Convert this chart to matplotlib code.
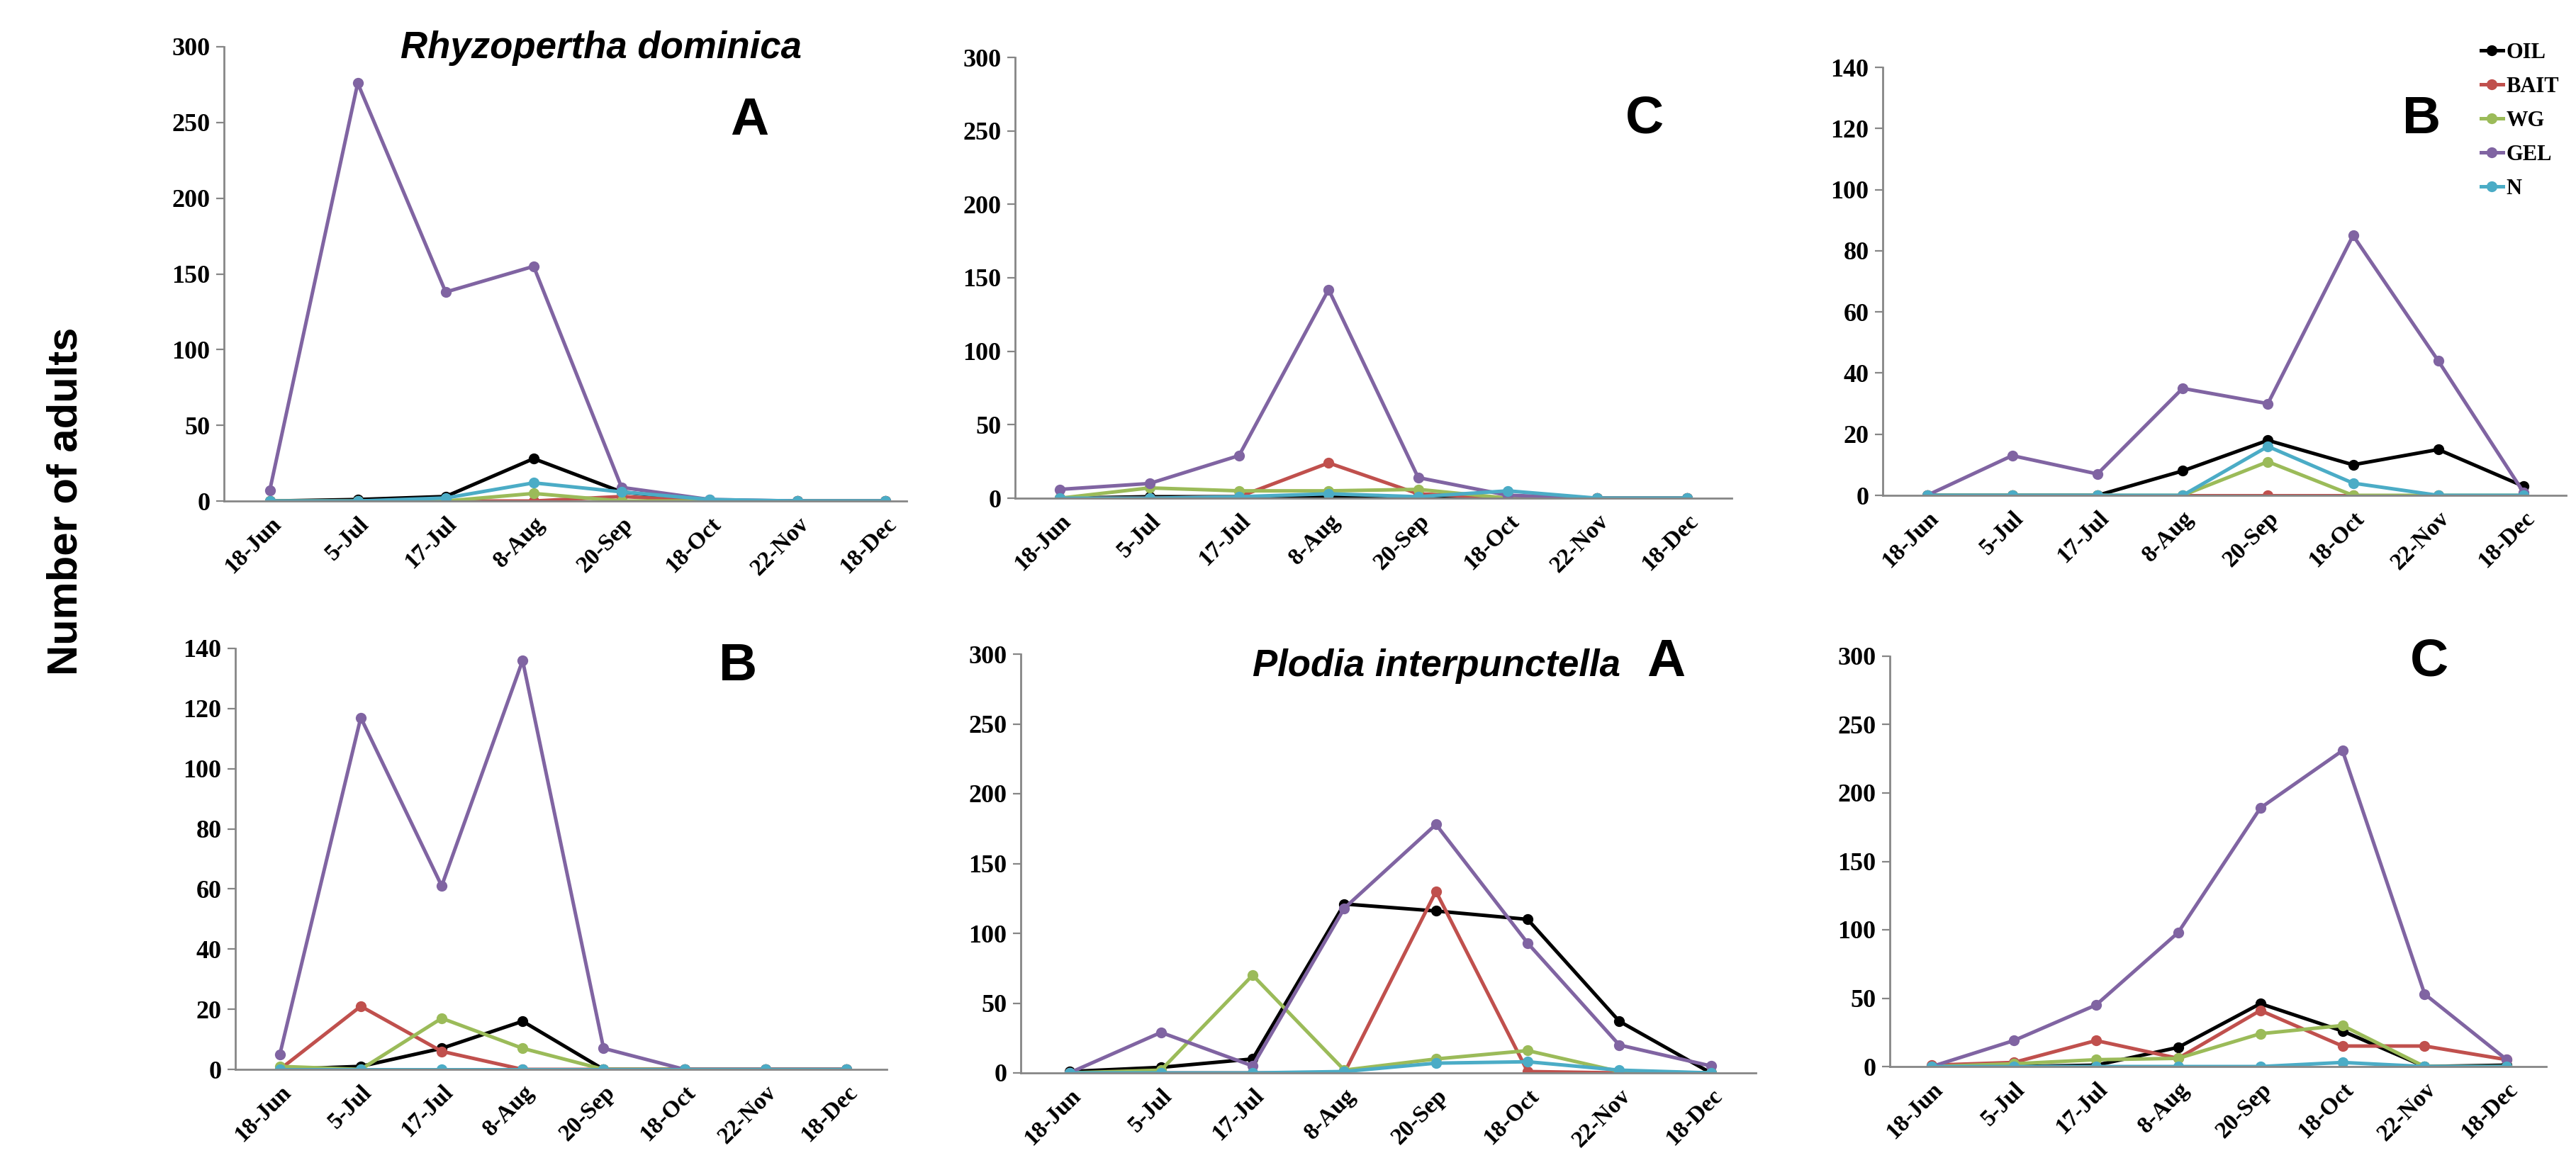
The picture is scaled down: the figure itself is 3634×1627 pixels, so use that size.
import matplotlib
matplotlib.use('Agg')
import matplotlib.pyplot as plt

plt.rcParams['font.family'] = 'Liberation Serif'

W, H = 3634, 1627

dates = ['18-Jun', '5-Jul', '17-Jul', '8-Aug', '20-Sep', '18-Oct', '22-Nov', '18-Dec']
series_names = ['OIL', 'BAIT', 'WG', 'GEL', 'N']
colors = ['#000000', '#c0504d', '#9bbb59', '#8064a2', '#4bacc6']

# Rhyzopertha dominica
rd_a = {
    'OIL':  [0, 1, 3, 28, 6, 0, 0, 0],
    'BAIT': [0, 0, 0, 0, 3, 0, 0, 0],
    'WG':   [0, 0, 0, 5, 0, 0, 0, 0],
    'GEL':  [7, 276, 138, 155, 9, 1, 0, 0],
    'N':    [0, 0, 2, 12, 6, 1, 0, 0],
}
rd_b = {
    'OIL':  [0, 1, 7, 16, 0, 0, 0, 0],
    'BAIT': [0, 21, 6, 0, 0, 0, 0, 0],
    'WG':   [1, 0, 17, 7, 0, 0, 0, 0],
    'GEL':  [5, 117, 61, 136, 7, 0, 0, 0],
    'N':    [0, 0, 0, 0, 0, 0, 0, 0],
}
rd_c = {
    'OIL':  [0, 1, 1, 1, 0, 0, 0, 0],
    'BAIT': [0, 0, 1, 24, 3, 0, 0, 0],
    'WG':   [0, 7, 5, 5, 6, 0, 0, 0],
    'GEL':  [6, 10, 29, 142, 14, 2, 0, 0],
    'N':    [0, 0, 1, 3, 1, 5, 0, 0],
}
# Plodia interpunctella
pi_a = {
    'OIL':  [1, 4, 10, 121, 116, 110, 37, 0],
    'BAIT': [0, 0, 0, 0, 130, 1, 0, 0],
    'WG':   [0, 2, 70, 2, 10, 16, 1, 0],
    'GEL':  [0, 29, 5, 118, 178, 93, 20, 5],
    'N':    [0, 0, 0, 1, 7, 8, 2, 0],
}
pi_b = {
    'OIL':  [0, 0, 0, 8, 18, 10, 15, 3],
    'BAIT': [0, 0, 0, 0, 0, 0, 0, 0],
    'WG':   [0, 0, 0, 0, 11, 0, 0, 0],
    'GEL':  [0, 13, 7, 35, 30, 85, 44, 1],
    'N':    [0, 0, 0, 0, 16, 4, 0, 0],
}
pi_c = {
    'OIL':  [0, 0, 1, 14, 46, 26, 0, 1],
    'BAIT': [1, 3, 19, 6, 41, 15, 15, 5],
    'WG':   [0, 2, 5, 6, 24, 30, 0, 0],
    'GEL':  [0, 19, 45, 98, 189, 231, 53, 5],
    'N':    [0, 0, 0, 0, 0, 3, 0, 0],
}

fig = plt.figure(figsize=(W / 200, H / 200), dpi=200)


def px_axes(left, right, ytop, ybot):
    return fig.add_axes([left / W, 1 - ybot / H, (right - left) / W, (ybot - ytop) / H])


def draw(ax, data, ymax, ystep, xlim):
    x = list(range(len(dates)))
    for name, c in zip(series_names, colors):
        ax.plot(x, data[name], color=c, lw=1.8, marker='o', ms=4.5, label=name)
    ax.set_ylim(0, ymax)
    ax.set_xlim(*xlim)
    ax.set_yticks(range(0, ymax + 1, ystep))
    ax.set_xticks(x)
    ax.set_xticklabels(dates, rotation=45, ha='right', rotation_mode='anchor')
    for s in ['top', 'right']:
        ax.spines[s].set_visible(False)
    for s in ['left', 'bottom']:
        ax.spines[s].set_color('#868686')
        ax.spines[s].set_linewidth(1.0)
    ax.tick_params(axis='y', length=4, width=0.8, color='#868686', pad=3, labelsize=13)
    ax.tick_params(axis='x', length=0, pad=6, labelsize=12)
    for lab in ax.get_xticklabels() + ax.get_yticklabels():
        lab.set_fontweight('bold')
    ax.patch.set_alpha(0)


ax1 = px_axes(316, 1279, 66, 707)
draw(ax1, rd_a, 300, 50, (-0.52, 7.24))
ax2 = px_axes(1432, 2443, 81, 703)
draw(ax2, rd_c, 300, 50, (-0.5, 7.5))
ax3 = px_axes(2656, 3620, 95, 699)
draw(ax3, pi_b, 140, 20, (-0.52, 7.5))
ax4 = px_axes(332, 1251, 915, 1509)
draw(ax4, rd_b, 140, 20, (-0.55, 7.5))
ax5 = px_axes(1440, 2477, 923, 1514)
draw(ax5, pi_a, 300, 50, (-0.53, 7.49))
ax6 = px_axes(2666, 3592, 926, 1505)
draw(ax6, pi_c, 300, 50, (-0.51, 7.48))

sans = 'Liberation Sans'
fig.text(93 / W, 1 - 707 / H, 'Number of adults', rotation=90, ha='center', va='center',
         fontsize=21.5, fontweight='bold', family=sans)
fig.text(848 / W, 1 - 82 / H, 'Rhyzopertha dominica', ha='center', va='baseline',
         fontsize=19, fontweight='bold', style='italic', family=sans)
fig.text(2026 / W, 1 - 954 / H, 'Plodia interpunctella', ha='center', va='baseline',
         fontsize=19, fontweight='bold', style='italic', family=sans)

letters = [('A', 1057, 170), ('C', 2320, 168), ('B', 3416, 168),
           ('B', 1041, 940), ('A', 2350, 934), ('C', 3427, 934)]
for t, lx, ly in letters:
    fig.text(lx / W, 1 - ly / H, t, ha='center', va='center', fontsize=27,
             fontweight='bold', family=sans)

handles, labels = ax3.get_legend_handles_labels()
fig.legend(handles, labels, loc='upper left', bbox_to_anchor=(3500 / W, 1 - 60 / H),
           frameon=False, handlelength=1.0, handletextpad=0.15, labelspacing=0.62,
           borderaxespad=0, borderpad=0,
           prop={'family': 'Liberation Serif', 'weight': 'bold', 'size': 11})

fig.savefig('out.png', dpi=200)
